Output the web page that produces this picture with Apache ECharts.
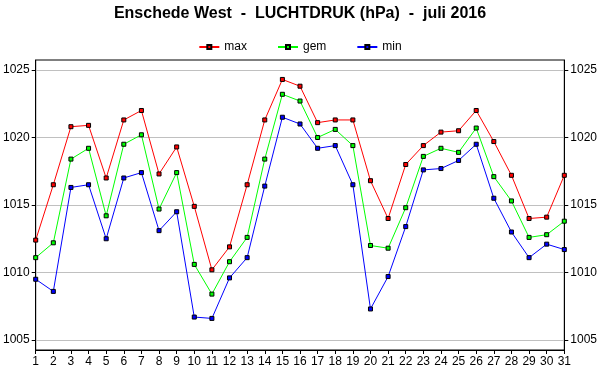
<!DOCTYPE html>
<html><head><meta charset="utf-8">
<script src="https://cdn.jsdelivr.net/npm/echarts@6/dist/echarts.min.js"></script>
<style>html,body{margin:0;padding:0;background:#fff}#c{width:600px;height:390px}</style>
</head><body><div id="c"></div>
<script>
const days = ['1','2','3','4','5','6','7','8','9','10','11','12','13','14','15','16','17','18','19','20','21','22','23','24','25','26','27','28','29','30','31'];
const maxVals = [1012.4,1016.5,1020.8,1020.9,1017.0,1021.3,1022.0,1017.3,1019.3,1014.9,1010.2,1011.9,1016.5,1021.3,1024.3,1023.8,1021.1,1021.3,1021.3,1016.8,1014.0,1018.0,1019.4,1020.4,1020.5,1022.0,1019.7,1017.2,1014.0,1014.1,1017.2];
const gemVals = [1011.1,1012.2,1018.4,1019.2,1014.2,1019.5,1020.2,1014.7,1017.4,1010.6,1008.4,1010.8,1012.6,1018.4,1023.2,1022.7,1020.0,1020.6,1019.4,1012.0,1011.8,1014.8,1018.6,1019.2,1018.9,1020.7,1017.1,1015.3,1012.6,1012.8,1013.8];
const minVals = [1009.5,1008.6,1016.3,1016.5,1012.5,1017.0,1017.4,1013.1,1014.5,1006.7,1006.6,1009.6,1011.1,1016.4,1021.5,1021.0,1019.2,1019.4,1016.5,1007.3,1009.7,1013.4,1017.6,1017.7,1018.3,1019.5,1015.5,1013.0,1011.1,1012.1,1011.7];
const yTicks = [1005,1010,1015,1020,1025];
const seriesNames = ['max','gem','min'];
const seriesColors = ['#ff0000','#00ff00','#0000ff'];

const chart = echarts.init(document.getElementById('c'), null, {renderer:'canvas'});
const font = 'Liberation Sans, Arial, sans-serif';
function yAx(pos){
  return {
    type:'value', position:pos, min:1004.26, max:1025.74,
    axisLine:{show:true, lineStyle:{color:'#000', width:1}},
    axisTick:{show:true, length:4, inside:false, customValues:yTicks, lineStyle:{color:'#000'}},
    axisLabel:{customValues:yTicks, color:'#000', fontSize:12, fontFamily:font, margin:6,
      formatter: v => String(Math.round(v))},
    splitLine:{show: pos==='left', lineStyle:{color:'#c0c0c0', width:1}}
  };
}
const data = [maxVals, gemVals, minVals];
chart.setOption({
  animation:false,
  backgroundColor:'#fff',
  title:{text:'Enschede West  -  LUCHTDRUK (hPa)  -  juli 2016', left:'center', top:1,
    textStyle:{fontFamily:font, fontSize:16, fontWeight:'bold', color:'#000'}},
  legend:{top:36, left:'center', itemWidth:20, itemHeight:5, itemGap:30,
    textStyle:{fontFamily:font, fontSize:12, color:'#000'}, data:seriesNames},
  grid:{left:35, right:35, top:60, bottom:40, show:true, borderColor:'#000', borderWidth:1, backgroundColor:'transparent'},
  xAxis:{type:'category', data:days, boundaryGap:false,
    axisLine:{lineStyle:{color:'#000'}},
    axisTick:{show:true, length:4, alignWithLabel:true, lineStyle:{color:'#000'}},
    axisLabel:{color:'#000', fontSize:12, fontFamily:font, margin:6, interval:0},
    splitLine:{show:false}},
  yAxis:[yAx('left'), yAx('right')],
  series: seriesNames.map((n,i)=>({
    name:n, type:'line', data:data[i], yAxisIndex:0,
    symbol:'rect', symbolSize:4, showSymbol:true,
    lineStyle:{color:seriesColors[i], width:1},
    itemStyle:{color:seriesColors[i], borderColor:'#000', borderWidth:1},
    z: 3-i
  }))
});
</script></body></html>
